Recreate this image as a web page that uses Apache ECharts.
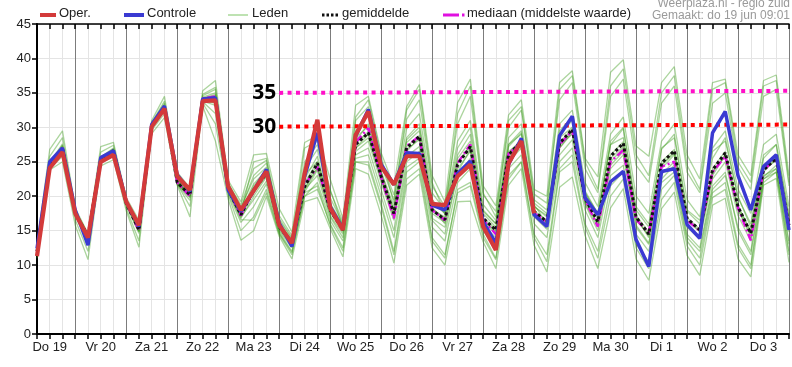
<!DOCTYPE html>
<html><head><meta charset="utf-8">
<script src="https://cdn.jsdelivr.net/npm/echarts@6/dist/echarts.min.js"></script>
<style>html,body{margin:0;padding:0;background:#fff}#c{width:792px;height:367px}</style>
</head><body><div id="c"></div>
<script>
// ---- data ----
const dayLabels = ['Do 19','Vr 20','Za 21','Zo 22','Ma 23','Di 24','Wo 25','Do 26','Vr 27','Za 28','Zo 29','Ma 30','Di 1','Wo 2','Do 3'];
const startHour = 6;   // first value: Do 19 06:00 (hours since Do 19 00:00)
const stepHours = 6;
const endHour = 360;

const oper = [11.3,24.1,26.4,17.5,14.0,25.0,26.0,19.2,15.8,30.1, 32.7,22.9,20.9,33.8,33.9,21.4,18.0,20.8,23.6,15.8, 13.2,23.3,31.1,18.3,15.1,28.9,32.3,24.3,21.7,25.8, 25.8,18.9,18.7,22.9,24.6,15.6,12.2,24.8,28.0,17.5];
const controle = [12.4,25.0,27.0,18.0,12.9,25.6,26.6,19.2,15.6,30.4, 33.1,23.1,20.7,34.1,34.3,20.9,17.8,20.8,23.9,16.1, 12.7,22.9,29.2,18.5,15.3,28.7,32.6,24.6,21.7,26.3, 26.2,18.7,18.0,23.3,25.1,16.3,13.2,24.6,28.4,17.3, 15.6,28.8,31.6,19.8,17.3,22.1,23.6,13.7,9.8,23.6, 24.0,15.9,13.9,29.2,32.3,23.0,18.0,24.3,26.0,15.1];
const gemiddelde = [12.0,24.5,27.0,17.5,14.2,25.3,26.6,19.0,15.1,30.2, 32.8,22.0,20.2,34.0,34.0,21.0,17.3,20.9,23.3,15.6, 13.2,21.4,24.8,18.0,15.1,27.5,29.2,22.9,17.5,27.0, 28.7,18.0,16.6,24.6,27.2,16.8,15.1,26.0,28.0,17.8, 16.3,27.7,29.7,19.7,16.3,25.8,27.7,17.0,14.5,24.8, 26.6,16.8,15.1,23.8,26.3,18.5,14.6,23.8,25.5,15.8];
const mediaan = [12.0,24.6,27.0,17.4,14.3,25.4,26.6,19.0,15.0,30.2, 32.9,22.0,20.0,34.2,34.5,21.0,17.2,20.9,23.4,15.6, 13.2,21.6,24.3,18.0,15.2,27.8,29.9,22.8,16.8,27.3, 28.7,18.0,16.5,24.8,27.5,16.6,14.5,26.2,27.8,17.6, 16.2,27.5,29.5,19.5,15.6,25.0,26.7,16.6,14.7,24.3, 25.0,16.5,15.0,23.5,25.8,18.3,13.6,23.8,25.5,15.8];

const lid01 = [13.0,26.8,29.5,18.3,14.6,27.2,27.8,19.8,16.5,31.0, 34.5,23.5,21.2,35.3,36.8,22.3,19.2,26.0,26.2,18.2, 14.8,27.8,28.8,22.5,16.8,33.2,34.5,26.3,21.5,33.0, 36.2,23.0,19.2,33.6,37.0,21.5,18.6,31.8,34.0,21.0, 20.0,36.5,38.2,25.5,22.8,38.0,39.8,27.3,25.8,36.5, 38.8,26.0,22.5,36.5,37.0,26.0,23.0,36.8,37.6,23.0];
const lid02 = [11.0,23.8,25.0,15.8,10.8,24.4,25.3,17.9,12.6,29.1, 31.4,21.6,17.0,33.1,28.0,19.6,13.6,15.0,20.0,14.2, 10.9,19.2,19.8,15.3,11.2,24.0,23.2,17.3,10.3,21.6, 23.2,12.5,10.0,19.2,19.3,13.4,9.5,21.6,24.0,12.9, 9.0,21.3,22.8,14.3,9.5,18.3,21.1,10.9,7.8,18.2, 20.6,11.4,8.5,18.7,19.7,10.9,8.3,21.6,22.6,10.4];
const lid03 = [12.6,25.8,28.5,18.0,14.5,26.4,27.4,19.5,16.0,30.7, 33.8,22.8,21.0,34.8,35.8,21.8,18.8,24.0,25.2,17.2, 14.3,25.0,27.5,20.8,16.3,31.0,33.0,25.0,20.2,31.2, 34.0,21.5,18.5,30.5,34.5,20.2,17.8,30.0,32.5,20.3, 19.0,34.0,36.5,24.0,20.5,34.5,37.0,24.5,22.0,33.5, 36.0,23.5,20.5,33.5,35.0,24.2,21.0,34.5,35.5,21.5];
const lid04 = [11.4,24.0,25.8,16.6,12.0,24.8,25.8,18.3,13.5,29.6, 32.0,21.8,18.5,33.5,30.5,20.2,15.0,17.0,21.0,14.6, 11.8,20.0,21.0,16.0,12.5,25.0,25.0,19.0,12.0,23.5, 25.0,14.0,11.5,20.5,21.5,14.0,10.8,22.5,25.0,14.0, 10.5,23.5,25.0,15.5,11.0,20.0,22.5,12.5,9.5,19.5, 22.0,12.8,10.0,19.8,21.0,12.5,9.5,22.0,23.5,11.5];
const lid05 = [12.2,24.9,27.6,17.8,14.4,25.6,26.9,19.2,15.4,30.4, 33.1,22.2,20.5,34.2,34.6,21.3,17.8,21.8,23.8,16.0, 13.6,22.5,25.8,18.8,15.6,28.5,30.2,23.6,18.5,28.2, 30.0,19.2,17.5,26.0,29.0,17.8,16.0,27.2,29.2,18.5, 17.2,29.5,31.5,20.8,17.5,27.5,29.8,18.5,16.0,26.8, 29.0,18.0,16.5,25.5,28.5,19.8,16.0,25.5,27.5,17.5];
const lid06 = [11.8,24.2,26.6,17.2,13.9,25.0,26.4,18.8,14.8,30.0, 32.5,21.8,19.8,33.8,33.2,20.8,16.8,20.0,22.8,15.2, 12.8,20.6,23.8,17.2,14.5,26.5,28.0,22.0,16.5,25.8, 27.2,16.8,15.5,23.0,25.5,15.8,14.0,25.0,27.0,17.0, 15.2,26.0,28.2,18.8,15.0,24.0,26.0,15.8,13.2,23.2, 25.0,15.5,13.8,22.5,25.0,17.2,13.5,22.8,24.5,14.8];
const lid07 = [12.1,24.6,27.2,17.6,14.1,25.4,26.7,19.0,15.2,30.2, 32.9,22.0,20.3,34.1,34.2,21.0,17.4,21.0,23.5,15.8, 13.2,21.6,24.6,18.2,15.0,27.6,29.4,23.0,17.8,27.2, 28.8,18.2,16.8,24.8,27.4,16.9,15.2,26.2,28.2,17.9, 16.5,27.8,29.8,19.8,16.6,26.0,27.9,17.2,14.8,25.0, 26.8,16.9,15.2,24.0,26.5,18.6,14.8,24.0,25.6,15.9];
const lid08 = [12.0,24.4,26.8,17.4,14.3,25.2,26.5,18.9,15.0,30.1, 32.7,21.9,20.0,34.0,33.6,20.6,17.0,19.5,22.2,15.0, 12.5,21.0,23.0,17.0,14.0,26.0,27.0,21.0,15.0,25.0, 26.5,16.5,14.5,23.5,26.8,16.2,14.6,27.5,29.5,19.0, 17.5,30.5,32.5,22.0,18.5,29.0,31.5,20.0,17.5,28.0, 30.5,19.5,17.0,27.0,29.5,21.0,17.5,27.5,29.0,18.5];
const lid09 = [12.3,24.7,27.3,17.7,14.0,25.5,26.8,19.1,15.6,30.5, 33.3,22.4,20.6,34.4,35.0,21.6,18.2,23.0,24.8,16.8, 14.0,24.0,26.8,19.8,16.0,29.5,31.8,24.5,19.5,29.8, 32.0,20.5,18.0,28.0,31.0,18.8,16.5,28.5,30.5,18.8, 16.0,28.5,30.0,19.0,15.5,24.5,26.5,15.5,13.0,22.5, 24.5,14.5,12.5,21.5,23.5,15.0,11.5,22.5,24.0,13.0];
const lid10 = [11.9,24.3,26.9,17.3,14.2,25.1,26.3,18.7,14.6,29.9, 32.4,21.7,19.4,33.7,32.0,20.4,16.2,18.5,21.8,14.8, 12.0,20.0,22.0,16.5,13.5,25.5,26.0,20.0,14.0,24.2, 25.5,15.5,13.5,22.0,24.0,15.0,12.5,24.0,26.0,16.0, 14.0,25.0,27.0,18.0,14.0,23.0,24.5,14.5,12.0,22.0, 23.5,14.0,12.0,21.0,23.0,15.5,12.0,23.0,24.0,13.5];
const lid11 = [12.1,24.8,27.4,17.9,14.5,25.7,27.0,19.3,15.8,30.6, 33.5,22.5,20.8,34.6,35.5,21.9,18.4,22.5,24.2,16.5, 13.8,23.2,25.0,19.0,15.8,28.0,29.0,22.5,17.5,26.5, 28.5,18.5,16.0,25.5,28.0,17.5,15.5,25.5,27.5,17.5, 15.5,27.0,29.5,20.5,17.5,27.5,28.5,17.0,14.0,24.0, 26.0,16.0,14.0,23.0,26.0,18.5,15.0,24.5,26.0,16.5];
const lid12 = [12.0,24.5,27.1,17.5,14.2,25.3,26.6,19.0,15.1,30.2, 32.8,22.1,20.2,34.0,34.0,21.1,17.3,20.5,23.0,15.5, 13.4,21.2,24.0,17.8,15.3,27.0,28.5,22.6,17.2,27.8, 29.5,18.0,17.0,25.0,27.0,16.5,15.0,26.5,28.0,17.5, 16.2,27.5,29.0,19.2,16.0,25.0,27.0,16.5,14.5,24.5, 26.5,16.5,15.0,23.5,26.0,18.0,14.5,23.5,25.5,15.5];
const lid13 = [12.2,24.6,27.0,17.5,14.3,25.2,26.7,19.1,15.3,30.3, 32.9,22.0,20.4,34.2,34.8,21.4,17.6,25.0,25.5,16.0, 13.0,27.0,28.0,21.0,15.5,31.5,34.0,25.8,19.0,32.5, 35.5,22.0,17.5,32.0,36.0,20.5,17.0,31.0,33.0,19.5, 18.0,35.5,37.5,25.0,21.0,36.0,38.5,26.0,23.0,35.0, 37.5,24.5,21.0,35.5,36.5,25.0,22.0,36.0,36.8,22.0];
const lid14 = [11.9,24.4,26.9,17.4,14.0,25.3,26.5,18.9,14.9,30.1, 32.6,21.8,19.9,33.9,33.5,20.8,16.6,16.5,20.5,14.5, 11.5,20.5,21.5,15.8,12.0,25.0,24.5,18.5,11.5,22.5, 24.0,13.5,11.0,21.0,22.0,14.5,11.0,23.0,25.0,14.5, 11.5,24.0,26.0,16.0,12.0,21.5,23.5,13.0,10.5,21.0, 23.0,13.5,11.0,20.5,22.0,13.0,10.0,22.5,23.5,12.0];
const lid15 = [12.1,24.7,27.1,17.6,14.2,25.4,26.7,19.0,15.2,30.3, 33.0,22.2,20.1,34.1,34.4,21.2,17.5,21.5,23.8,15.9, 13.5,22.0,25.0,18.5,15.0,28.0,30.5,23.5,18.0,28.5, 30.5,19.5,17.5,27.0,30.0,18.0,16.0,27.5,29.0,18.5, 17.0,29.0,31.0,20.5,17.0,28.0,30.0,18.0,15.5,27.0, 28.5,17.8,16.0,26.5,28.0,20.0,15.5,26.0,27.5,17.0];
const lid16 = [12.0,24.5,26.9,17.5,14.1,25.2,26.6,18.9,15.0,30.2, 32.7,21.9,20.1,33.9,33.8,20.9,17.1,20.8,23.2,15.4, 13.0,21.0,24.2,17.6,14.8,27.0,29.0,22.8,16.8,26.8, 28.2,17.5,16.2,24.0,26.5,16.5,14.8,25.8,27.8,17.5, 15.8,27.0,29.2,19.5,15.8,25.5,27.2,16.8,14.2,24.5, 26.2,16.5,14.8,23.5,25.8,18.2,14.0,23.8,25.2,15.5];
const leden = [lid01,lid02,lid03,lid04,lid05,lid06,lid07,lid08,lid09,lid10,lid11,lid12,lid13,lid14,lid15,lid16];

// hand-drawn threshold annotations: [label, start hour, end hour, value at start, value at end]
const annot35 = ['35', 120, 360, 35.0, 35.3];
const annot30 = ['30', 120, 360, 30.1, 30.4];

// ---- chart ----
const pairs = arr => arr.map((v, i) => [startHour + i * stepHours, v]);
const FONT = '"Liberation Sans", Arial, sans-serif';

const series = [];
leden.forEach((m) => series.push({
  name: 'Leden', type: 'line', data: pairs(m), symbol: 'none', z: 2, silent: true,
  lineStyle: { color: '#3a9c18', width: 1.3, opacity: 0.42 }
}));
const annLine = (a, color) => [
  { coord: [a[1], a[3]], lineStyle: { color: color, width: 4, type: [4, 4.4] },
    label: { show: true, position: 'start', formatter: a[0], color: '#000', fontSize: 21,
             fontWeight: 'bold', fontFamily: '"Open Sans", sans-serif', distance: 3 } },
  { coord: [a[2], a[4]] }
];
series.push({
  name: 'annot', type: 'line', data: [], z: 3, silent: true,
  markLine: { silent: true, animation: false, symbol: ['none', 'none'],
    data: [annLine(annot35, '#ff10c8'), annLine(annot30, '#ff0000')] }
});
series.push({ name: 'mediaan', type: 'line', data: pairs(mediaan), symbol: 'none', z: 4, silent: true,
  lineStyle: { color: '#e010e0', width: 2.5, type: [8, 3, 2, 3] } });
series.push({ name: 'gemiddelde', type: 'line', data: pairs(gemiddelde), symbol: 'none', z: 5, silent: true,
  lineStyle: { color: '#111', width: 3, type: [3, 2.5] } });
series.push({ name: 'Controle', type: 'line', data: pairs(controle), symbol: 'none', z: 6, silent: true,
  lineStyle: { color: '#3a3ad2', width: 3.5 } });
series.push({ name: 'Oper.', type: 'line', data: pairs(oper), symbol: 'none', z: 7, silent: true,
  lineStyle: { color: '#d33a3a', width: 4.2 } });

const light = '#e4e4e4', dark = '#7c7c7c';
const legendY = 15;
const legendText = (x, t) => ({ type: 'text', left: x, top: legendY - 8,
  style: { text: t, fill: '#222', fontSize: 13, fontFamily: FONT } });
const legendLine = (x1, x2, stroke, w, dash) => ({ type: 'line',
  shape: { x1: x1, y1: legendY, x2: x2, y2: legendY },
  style: { stroke: stroke, lineWidth: w, lineDash: dash || null } });

const chart = echarts.init(document.getElementById('c'), null, { renderer: 'canvas' });
chart.setOption({
  animation: false,
  backgroundColor: '#fff',
  grid: { left: 37, right: 1, top: 24, bottom: 33, containLabel: false },
  xAxis: [{
    type: 'value', min: startHour, max: endHour, interval: stepHours, position: 'bottom',
    axisLine: { show: true, onZero: false, lineStyle: { color: '#000', width: 2 } },
    axisTick: { show: true, length: 5, lineStyle: { color: '#000', width: 1.5 } },
    axisLabel: { show: true, margin: 7, fontSize: 13, color: '#222', fontFamily: FONT,
      formatter: v => (v % 24 === 12 ? dayLabels[Math.floor(v / 24)] : '') },
    splitLine: { show: true, showMinLine: true, showMaxLine: true,
      lineStyle: { color: [light, light, light, dark], width: 1 } }
  }, {
    type: 'value', min: startHour, max: endHour, interval: stepHours, position: 'top',
    axisLine: { show: true, onZero: false, lineStyle: { color: '#000', width: 1.5 } },
    axisTick: { show: true, inside: true, length: 5, lineStyle: { color: '#000', width: 1.5 } },
    axisLabel: { show: false }, splitLine: { show: false }
  }],
  yAxis: {
    type: 'value', min: 0, max: 45, interval: 5,
    axisLine: { show: true, onZero: false, lineStyle: { color: '#000', width: 2 } },
    axisTick: { show: true, length: 5, lineStyle: { color: '#000', width: 1.5 } },
    axisLabel: { margin: 6, fontSize: 13, color: '#222', fontFamily: FONT },
    splitLine: { show: true, lineStyle: { color: light, width: 1 } }
  },
  series: series,
  graphic: [
    legendLine(40, 56, '#d33a3a', 4), legendText(59, 'Oper.'),
    legendLine(124, 144, '#3a3ad2', 4), legendText(147, 'Controle'),
    legendLine(228, 248, '#a9d898', 1.5), legendText(252, 'Leden'),
    legendLine(322, 338, '#111', 3, [2.5, 2]), legendText(342, 'gemiddelde'),
    legendLine(443, 459, '#e010e0', 3), legendLine(462, 464.5, '#e010e0', 3), legendText(467, 'mediaan (middelste waarde)'),
    { type: 'text', right: 2, top: -2, style: { text: 'Weerplaza.nl - regio zuid', fill: '#9a9a9a', fontSize: 12, fontFamily: FONT } },
    { type: 'text', right: 2, top: 10, style: { text: 'Gemaakt: do 19 jun 09:01', fill: '#9a9a9a', fontSize: 12, fontFamily: FONT } }
  ]
});
</script></body></html>
